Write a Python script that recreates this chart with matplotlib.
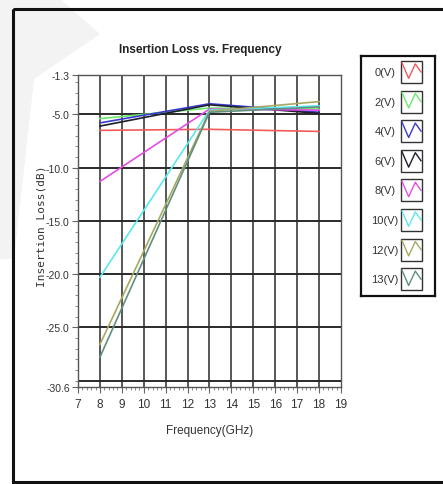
import matplotlib.pyplot as plt
import numpy as np
from matplotlib.patches import Polygon, Rectangle

freq = [8, 13, 18]
bias = ['0(V)', '2(V)', '4(V)', '6(V)', '8(V)', '10(V)', '12(V)', '13(V)']
loss_0v = [-6.5, -6.4, -6.6]
loss_2v = [-5.4, -4.4, -4.5]
loss_4v = [-5.8, -4.0, -4.8]
loss_6v = [-6.1, -4.1, -4.9]
loss_8v = [-11.3, -4.5, -4.6]
loss_10v = [-20.3, -4.6, -4.2]
loss_12v = [-26.6, -4.7, -3.8]
loss_13v = [-27.8, -4.8, -4.3]
colors = ['#f25a5a', '#6be86b', '#3a3acb', '#1e1e2e', '#e64de6', '#5be8ee', '#a8a860', '#5f8f80']
yticks = [-1.3, -5.0, -10.0, -15.0, -20.0, -25.0, -30.6]

series = [loss_0v, loss_2v, loss_4v, loss_6v, loss_8v, loss_10v, loss_12v, loss_13v]
narrow = ['Liberation Sans', 'DejaVu Sans']

W, H = 443, 485
fig = plt.figure(figsize=(W / 100, H / 100), dpi=100)

# faint watermark shape and outer frame
bg = fig.add_axes([0, 0, 1, 1], zorder=-5)
bg.set_xlim(0, W)
bg.set_ylim(H, 0)
bg.axis('off')
bg.add_patch(Polygon([(0, 0), (60, 0), (100, 35), (34, 80), (14, 260), (0, 260)],
                     closed=True, color='#f3f3f3', lw=0))
bg.add_patch(Rectangle((13, 10), 440, 473, fill=False, ec='#111111', lw=2.2))

ax = fig.add_axes([78 / W, 1 - 388 / H, (341 - 78) / W, (388 - 76) / H])
for vals, c in zip(series, colors):
    ax.plot(freq, vals, color=c, lw=1.2, zorder=3)

ax.set_xlim(7, 19)
ax.set_ylim(-30.6, -1.3)
ax.set_xticks(range(7, 20))
ax.set_xticks(np.arange(7, 19.01, 0.2), minor=True)
ax.set_yticks(yticks)
ax.set_yticklabels([f'{v:.1f}' for v in yticks])
ax.set_yticks(np.arange(-30, -1.3, 1.0), minor=True)
ax.tick_params(which='major', direction='out', length=4, width=0.8, color='#666666',
               labelsize=7.5, labelcolor='#333333', pad=2)
ax.tick_params(which='minor', direction='out', length=2.5, width=0.6, color='#777777')
ax.tick_params(axis='x', labelsize=8.5, pad=4)
for lab in ax.get_xticklabels() + ax.get_yticklabels():
    lab.set_family(narrow)

for x in range(8, 19):
    ax.axvline(x, color='#4a4a4a', lw=1.3, zorder=1)
for y in [-5, -10, -15, -20, -25, -30]:
    ax.axhline(y, color='#2a2a2a', lw=1.4, zorder=1)
for s in ax.spines.values():
    s.set_color('#555555')
    s.set_linewidth(1.0)

ax.set_xlabel('Frequency(GHz)', family=narrow, fontsize=8.5, color='#333333', labelpad=10)
fig.text(42 / W, 1 - 226 / H, 'Insertion Loss(dB)', rotation=90, ha='center', va='center',
         family='DejaVu Sans Mono', fontsize=8, color='#333333')
fig.text(200 / W, 1 - 50 / H, 'Insertion Loss vs. Frequency', ha='center', va='center',
         family=narrow, fontsize=8.5, fontweight='bold', color='#222222')

# legend panel
lg = fig.add_axes([361 / W, 1 - 297 / H, (435 - 361) / W, (297 - 57) / H])
lg.set_xlim(0, 74)
lg.set_ylim(240, 0)
lg.set_xticks([])
lg.set_yticks([])
for s in lg.spines.values():
    s.set_color('#111111')
    s.set_linewidth(1.6)
icon_x = np.array([0, 0.35, 0.7, 1.0])
icon_y = np.array([1.0, 0.15, 0.95, 0.5])
for i, (name, c) in enumerate(zip(bias, colors)):
    yc = 16 + i * 29.6
    lg.text(24, yc, name, ha='center', va='center', family=narrow, fontsize=8, color='#333333')
    lg.add_patch(Rectangle((40, yc - 11), 21, 22, fill=False, ec='#333333', lw=1.0))
    lg.plot(41 + icon_x * 19, yc + 9 - icon_y * 18, color=c, lw=1.0)

fig.savefig('out.png', dpi=100)
